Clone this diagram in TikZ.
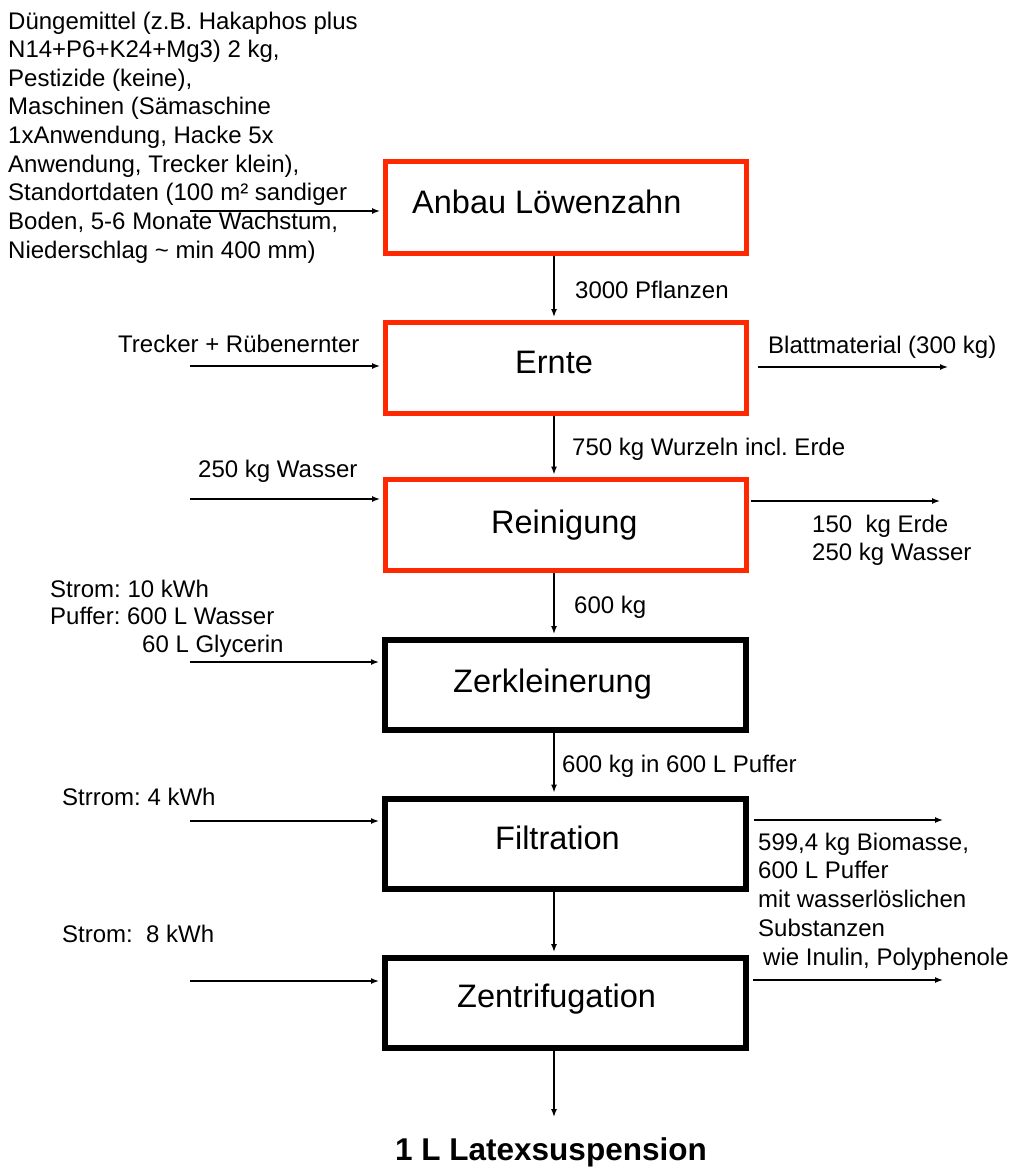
\documentclass[tikz,border=0pt]{standalone}
\usepackage{fontspec}
\setmainfont{Liberation Sans}
\usetikzlibrary{arrows.meta}
\definecolor{boxred}{RGB}{255,40,0}
\frenchspacing
\begin{document}
\begin{tikzpicture}[x=1pt,y=-1pt,
  redbox/.style={draw=boxred, line width=5pt, minimum width=361pt, minimum height=91pt, inner sep=0pt},
  blackbox/.style={draw=black, line width=6pt, minimum width=361pt, minimum height=90pt, inner sep=0pt},
  boxlbl/.style={anchor=base west, inner sep=0pt, font=\fontsize{32.5}{39}\selectfont},
  lbl/.style={anchor=base west, inner sep=0pt, font=\fontsize{24}{28.6}\selectfont},
  arr/.style={line width=1.4pt, -{Latex[length=8pt,width=6pt]}},
]
\useasboundingbox (0,0) rectangle (1016,1169);

% boxes
\node[redbox]   (anbau) at (565.5,207.5) {};
\node[redbox]   (ernte) at (565.5,367.5) {};
\node[redbox]   (rein)  at (565.5,525)   {};
\node[blackbox] (zerk)  at (565.5,685)   {};
\node[blackbox] (filt)  at (565.5,843.5) {};
\node[blackbox] (zent)  at (565.5,1003)  {};

% box labels
\node[boxlbl] (tanbau) at (412,213)  {Anbau Löwenzahn};
\node[boxlbl] (ternte) at (515,373)  {Ernte};
\node[boxlbl] (trein)  at (491,533)  {Reinigung};
\node[boxlbl] (tzerk)  at (453,692)  {Zerkleinerung};
\node[boxlbl] (tfilt)  at (495,849)  {Filtration};
\node[boxlbl] (tzent)  at (457,1007) {Zentrifugation};

% vertical flow
\coordinate (vx) at (554,0);
\coordinate (endout) at (554,1117);
\draw[arr, shorten >=2.5pt] (anbau.south -| vx) -- (ernte.north -| vx);
\draw[arr, shorten >=2.5pt] (ernte.south -| vx) -- (rein.north -| vx);
\draw[arr, shorten >=3pt]   (rein.south -| vx)  -- (zerk.north -| vx);
\draw[arr, shorten >=3pt]   (zerk.south -| vx)  -- (filt.north -| vx);
\draw[arr, shorten >=3pt]   (filt.south -| vx)  -- (zent.north -| vx);
\draw[arr]                  (zent.south -| vx)  -- (endout);

\node[lbl] (l1) at (575,298) {3000 Pflanzen};
\node[lbl] (l2) at (572,455) {750 kg Wurzeln incl. Erde};
\node[lbl] (l3) at (574,613) {600 kg};
\node[lbl] (l4) at (562,772) {600 kg in 600 L Puffer};
\node[anchor=base, inner sep=0pt, font=\fontsize{31.5}{38}\selectfont\bfseries] (final) at (551,1160) {1 L Latexsuspension};

% inputs
\coordinate (in1) at (190,211);
\coordinate (in2) at (190,366);
\coordinate (in3) at (190,499);
\coordinate (in4) at (190,662);
\coordinate (in5) at (190,821);
\coordinate (in6) at (190,981);
\draw[arr, shorten >=2.5pt] (in1) -- (in1 -| anbau.west);
\draw[arr, shorten >=2.5pt] (in2) -- (in2 -| ernte.west);
\draw[arr, shorten >=2.5pt] (in3) -- (in3 -| rein.west);
\draw[arr, shorten >=3pt]   (in4) -- (in4 -| zerk.west);
\draw[arr, shorten >=3pt]   (in5) -- (in5 -| filt.west);
\draw[arr, shorten >=3pt]   (in6) -- (in6 -| zent.west);

\node[lbl, align=left] (iA) at (8,258) {Düngemittel (z.B. Hakaphos plus\\N14+P6+K24+Mg3) 2 kg,\\Pestizide (keine),\\Maschinen (Sämaschine\\1xAnwendung, Hacke 5x\\Anwendung, Trecker klein),\\Standortdaten (100 m² sandiger\\Boden, 5-6 Monate Wachstum,\\Niederschlag \textasciitilde{} min 400 mm)};
\node[lbl] (iB) at (118,352) {Trecker + Rübenernter};
\node[lbl] (iC) at (198,477) {250 kg Wasser};
\node[lbl, align=left, font=\fontsize{24}{27.5}\selectfont] (iD) at (50,652) {Strom: 10 kWh\\Puffer: 600 L Wasser\\\hspace*{92pt}60 L Glycerin};
\node[lbl] (iE) at (62,805) {Strrom: 4 kWh};
\node[lbl] (iF) at (62,942) {Strom:\ \ 8 kWh};

% outputs
\coordinate (out2) at (948,367);
\coordinate (out3) at (940,501);
\coordinate (out5) at (943,820);
\coordinate (out6) at (943,980);
\draw[arr, shorten <=9pt] (ernte.east |- out2) -- (out2);
\draw[arr, shorten <=2pt] (rein.east |- out3) -- (out3);
\draw[arr, shorten <=5pt] (filt.east |- out5) -- (out5);
\draw[arr, shorten <=4pt] (zent.east |- out6) -- (out6);

\node[lbl] (oB) at (768,353) {Blattmaterial (300 kg)};
\node[lbl, align=left, font=\fontsize{24}{28}\selectfont] (oC) at (812,560) {150\ \ kg Erde\\250 kg Wasser};
\node[lbl, align=left, font=\fontsize{24}{28.7}\selectfont] (oE) at (758,965) {599,4 kg Biomasse,\\600 L Puffer\\mit wasserlöslichen\\Substanzen\\\hspace*{5pt}wie Inulin, Polyphenole};
\end{tikzpicture}
\end{document}
